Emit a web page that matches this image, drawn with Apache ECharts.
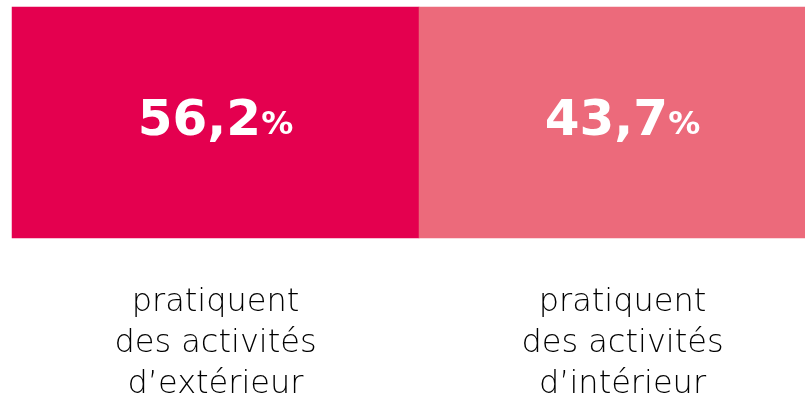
<!DOCTYPE html>
<html>
<head>
<meta charset="utf-8">
<script src="https://cdn.jsdelivr.net/npm/echarts@6/dist/echarts.min.js"></script>
<style>
  html, body { margin: 0; padding: 0; background: #fff; }
  #chart { width: 805px; height: 406px; }
</style>
</head>
<body>
<div id="chart"></div>
<script>
var categories = ['pratiquent\ndes activités\nd\u2019extérieur', 'pratiquent\ndes activités\nd\u2019intérieur'];
var values = [56.2, 43.7];
var colors = ['#e4004f', '#ec6a7b'];

var myChart = echarts.init(document.getElementById('chart'));

var cells = values.map(function (v, i) {
    return { value: [i, 0, v], itemStyle: { color: colors[i] } };
});

var option = {
    animation: false,
    grid: { left: 12, top: 7, width: 814, height: 231, outerBoundsMode: 'none' },
    xAxis: {
        type: 'category',
        data: categories,
        axisLine: { show: false },
        axisTick: { show: false },
        splitLine: { show: false },
        axisLabel: {
            margin: 44,
            color: '#000',
            fontFamily: 'DejaVu Sans',
            fontWeight: 200,
            fontSize: 32,
            lineHeight: 41
        }
    },
    yAxis: {
        type: 'category',
        data: [''],
        show: false
    },
    series: [{
        type: 'heatmap',
        data: cells,
        label: {
            show: true,
            formatter: function (p) {
                return '{n|' + String(p.value[2]).replace('.', ',') + '}{p|%}';
            },
            rich: {
                n: { color: '#fff', fontFamily: 'DejaVu Sans', fontWeight: 'bold', fontSize: 50 },
                p: { color: '#fff', fontFamily: 'DejaVu Sans', fontWeight: 'bold', fontSize: 32, padding: [6, 0, 0, 0] }
            }
        },
        emphasis: { disabled: true }
    }]
};

myChart.setOption(option);
</script>
</body>
</html>
